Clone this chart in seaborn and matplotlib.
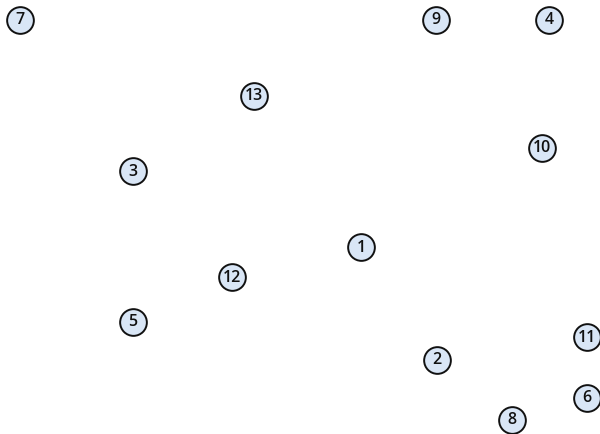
import pandas as pd
import matplotlib
matplotlib.use("Agg")
import matplotlib.pyplot as plt
import seaborn as sns

# node labels and positions (pixel-like coordinates, y grows downward)
labels = ["1", "2", "3", "4", "5", "6", "7", "8", "9", "10", "11", "12", "13"]
xs = [361, 437, 133, 549, 133, 587, 20, 512, 436, 542, 587, 232, 254]
ys = [247, 360, 171, 20, 322, 398, 20, 420, 20, 148, 337, 277, 96]

df = pd.DataFrame({"label": labels, "x": xs, "y": ys})

sns.set_theme(style="white")

fig = plt.figure(figsize=(6.0, 4.34), dpi=100)
ax = fig.add_axes([0, 0, 1, 1])

sns.scatterplot(data=df, x="x", y="y", ax=ax, s=370, color="#d9e6f6",
                edgecolor="#111111", linewidth=1.4, zorder=2, legend=False)

for _, row in df.iterrows():
    ax.text(row["x"], row["y"] + 0.5, row["label"], ha="center", va="center",
            fontsize=11.5, fontweight="semibold", color="#111111", zorder=3,
            family="Open Sans")

ax.set_xlim(0, 600)
ax.set_ylim(434, 0)
ax.set_axis_off()

fig.savefig("out.png", dpi=100)
